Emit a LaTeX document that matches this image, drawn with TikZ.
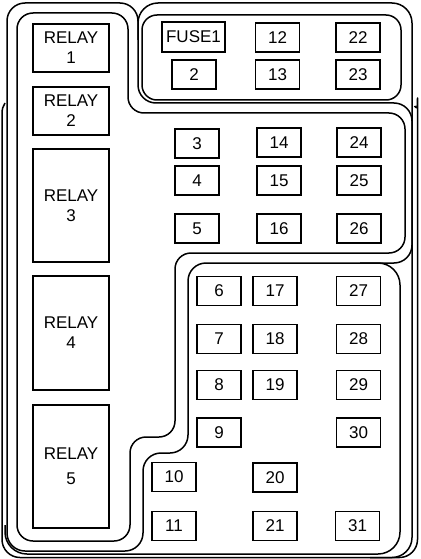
\documentclass[tikz,border=0pt]{standalone}
\usepackage{fontspec}
\setmainfont{Liberation Sans}
\begin{document}
\begin{tikzpicture}[x=1pt,y=-1pt,
  wall/.style={line width=1.5pt, line join=round},
  fbox/.style={draw, line width=1.3pt, minimum width=44pt, minimum height=29pt, inner sep=0pt, font=\fontsize{17}{20}\selectfont},
  rbox/.style={draw, line width=1.3pt, minimum width=76pt, inner sep=0pt, align=center, font=\fontsize{17}{20}\selectfont},
]
\useasboundingbox (0,0) rectangle (420,559);
\fill[white] (0,0) rectangle (420,559);

% housing outer U
\draw[wall] (5,103) .. controls (3,106) and (2,109) .. (2,114)
  [rounded corners=18pt] -- (2,557.5) -- (417.5,557.5) -- (417.5,116)
  [sharp corners] .. controls (417.5,111) and (416.5,108) .. (414.5,106);
% fuse outer + right wall
\draw[wall, rounded corners=20pt] (138,40) -- (138,3) -- (412,3) -- (412,557.5) -- (370,557.5);
% main compartment outer line
\draw[wall, rounded corners=18pt] (7,300) -- (7,3) -- (138,3) -- (138,103) -- (412,103) -- (412,263)
  -- (188,263) -- (188,453) -- (143,453) -- (143,551) -- (7,551) -- cycle;
% main compartment inner line
\draw[wall, rounded corners=16pt] (17,300) -- (17,13) -- (128,13) -- (128,113) -- (405,113) -- (405,253)
  -- (175,253) -- (175,437) -- (130,437) -- (130,541) -- (17,541) -- cycle;
% fuse compartment inner line
\draw[wall, rounded corners=15pt] (142,15) rectangle (401,100);
% lower compartment inner line
\draw[wall, rounded corners=22pt] (360,263) -- (400,263) -- (400,554) -- (5,554) -- (5,525);

% relays
\node[rbox, minimum height=48pt] (r1) at (71,48) {RELAY\\1};
\node[rbox, minimum height=48pt] (r2) at (71,111) {RELAY\\2};
\node[rbox, minimum height=113pt] (r3) at (71,205.5) {RELAY\\3};
\node[rbox, minimum height=114pt] (r4) at (71,333) {RELAY\\4};
\node[rbox, minimum height=123pt, font=\fontsize{17}{25}\selectfont] (r5) at (71,466.5) {RELAY\\5};

% fuses
\node[fbox, minimum width=63pt, minimum height=30pt] (fuse1) at (193.5,37) {FUSE1};
\node[fbox] (f12) at (277.5,37.5) {12};
\node[fbox] (f22) at (358,37.5) {22};
\node[fbox] (f2) at (194,74.5) {2};
\node[fbox] (f13) at (277.5,74.5) {13};
\node[fbox] (f23) at (358,74.5) {23};

\node[fbox] (f3) at (197,143.5) {3};
\node[fbox] (f14) at (279,142.5) {14};
\node[fbox] (f24) at (359,142.5) {24};
\node[fbox] (f4) at (197,180.5) {4};
\node[fbox] (f15) at (279,180.5) {15};
\node[fbox] (f25) at (359,180.5) {25};
\node[fbox] (f5) at (197,228.5) {5};
\node[fbox] (f16) at (279,228.5) {16};
\node[fbox] (f26) at (359,228.5) {26};

\node[fbox] (f6) at (219,291) {6};
\node[fbox] (f17) at (275,291) {17};
\node[fbox] (f27) at (358.5,291) {27};
\node[fbox] (f7) at (219,339) {7};
\node[fbox] (f18) at (275,339) {18};
\node[fbox] (f28) at (358.5,339) {28};
\node[fbox] (f8) at (219,385) {8};
\node[fbox] (f19) at (275,385) {19};
\node[fbox] (f29) at (358.5,385) {29};
\node[fbox] (f9) at (219,432.5) {9};
\node[fbox] (f30) at (358.5,432.5) {30};
\node[fbox] (f10) at (174,477) {10};
\node[fbox] (f20) at (275,477.5) {20};
\node[fbox] (f11) at (174,526) {11};
\node[fbox] (f21) at (275,526) {21};
\node[fbox] (f31) at (357.5,526) {31};
\end{tikzpicture}
\end{document}
